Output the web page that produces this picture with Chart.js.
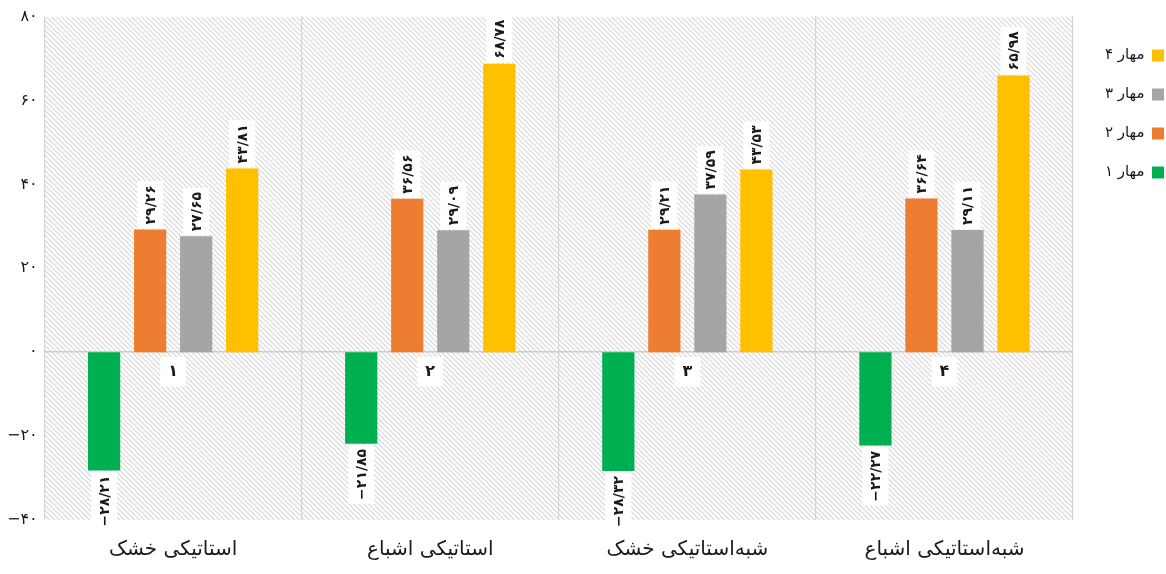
<!DOCTYPE html>
<html>
<head>
<meta charset="utf-8">
<script src="https://cdn.jsdelivr.net/npm/chart.js@4.4.1/dist/chart.umd.min.js"></script>
<style>
html,body{margin:0;padding:0;background:#fff;}
#wrap{width:1166px;height:574px;position:relative;}
canvas{direction:ltr;}
</style>
</head>
<body>
<div id="wrap"><canvas id="c" width="1166" height="574"></canvas></div>
<script>
const categories = ['۱', '۲', '۳', '۴'];
const groupNames = ['استاتیکی خشک', 'استاتیکی اشباع', 'شبه‌استاتیکی خشک', 'شبه‌استاتیکی اشباع'];
const seriesNames = ['مهار ۱', 'مهار ۲', 'مهار ۳', 'مهار ۴'];
const brace1 = [-28.21, -21.85, -28.32, -22.27];
const brace2 = [29.26, 36.56, 29.21, 36.64];
const brace3 = [27.65, 29.09, 37.59, 29.11];
const brace4 = [43.81, 68.78, 43.53, 65.98];
const seriesColors = ['#00b050', '#ed7d31', '#a5a5a5', '#ffc000'];
const yTickLabels = ['−۴۰', '−۲۰', '۰', '۲۰', '۴۰', '۶۰', '۸۰'];

const FONT = "'DejaVu Sans', 'Noto Sans', sans-serif";
const faDigits = '۰۱۲۳۴۵۶۷۸۹';
function toFa(v) {
  const s = Math.abs(v).toFixed(2).replace('.', '/');
  const f = s.replace(/[0-9]/g, d => faDigits[+d]);
  return (v < 0 ? '−' : '') + f;
}

const LEGEND_WIDTH = 93;
const LEGEND_SHIFT = 22;
const legendWidthPlugin = {
  id: 'legendWidth',
  beforeUpdate(chart) {
    const lg = chart.legend;
    if (lg && !lg._fitPatched) {
      const origFit = lg.fit.bind(lg);
      lg.fit = function () { origFit(); this.width = LEGEND_WIDTH; };
      const origDraw = lg.draw.bind(lg);
      lg.draw = function () {
        const l = this.left;
        this.left = l + LEGEND_SHIFT;
        origDraw();
        this.left = l;
      };
      lg._fitPatched = true;
    }
  }
};

const hatchPlugin = {
  id: 'hatch',
  beforeDraw(chart) {
    const {ctx, chartArea: a} = chart;
    ctx.canvas.style.direction = 'ltr';
    ctx.save();
    ctx.fillStyle = '#ffffff';
    ctx.fillRect(0, 0, chart.width, chart.height);
    ctx.beginPath();
    ctx.rect(a.left, a.top, a.right - a.left, a.bottom - a.top);
    ctx.clip();
    ctx.strokeStyle = '#dadada';
    ctx.lineWidth = 1.2;
    const h = a.bottom - a.top;
    ctx.beginPath();
    for (let x = a.left - h; x < a.right + 10; x += 5) {
      ctx.moveTo(x, a.top);
      ctx.lineTo(x + h, a.bottom);
    }
    ctx.stroke();
    ctx.restore();
  }
};

const valueLabelPlugin = {
  id: 'valueLabels',
  afterDatasetsDraw(chart) {
    const ctx = chart.ctx;
    ctx.canvas.style.direction = 'ltr';
    ctx.save();
    ctx.direction = 'ltr';
    ctx.font = "bold 14px " + FONT;
    ctx.textBaseline = 'middle';
    chart.data.datasets.forEach((ds, di) => {
      const meta = chart.getDatasetMeta(di);
      meta.data.forEach((bar, i) => {
        const v = ds.data[i];
        const txt = toFa(v);
        const w = ctx.measureText(txt).width;
        const boxLen = w + 8;
        const boxThick = 26;
        ctx.save();
        ctx.translate(bar.x, bar.y);
        ctx.rotate(-Math.PI / 2);
        ctx.fillStyle = '#ffffff';
        if (v >= 0) {
          ctx.fillRect(1, -boxThick / 2, boxLen, boxThick);
          ctx.fillStyle = '#1a1a1a';
          ctx.textAlign = 'left';
          ctx.fillText(txt, 5, 1);
        } else {
          ctx.fillRect(-1 - boxLen, -boxThick / 2, boxLen, boxThick);
          ctx.fillStyle = '#1a1a1a';
          ctx.textAlign = 'right';
          ctx.fillText(txt, -5, 1);
        }
        ctx.restore();
      });
    });
    ctx.restore();
  }
};

const seriesData = [brace1, brace2, brace3, brace4];
new Chart(document.getElementById('c'), {
  type: 'bar',
  data: {
    labels: categories,
    datasets: seriesData.map((d, k) => ({
      label: seriesNames[k],
      data: d,
      backgroundColor: seriesColors[k],
      borderWidth: 0,
      categoryPercentage: 0.716,
      barPercentage: 0.70
    }))
  },
  options: {
    responsive: false,
    animation: false,
    devicePixelRatio: 1,
    layout: {padding: {top: 10, right: 0, left: 0, bottom: -6}},
    plugins: {
      tooltip: {enabled: false},
      legend: {
        position: 'right',
        align: 'start',
        reverse: true,
        rtl: true,
        textDirection: 'ltr',
        title: {display: true, text: ' ', padding: {top: 2, bottom: 0}, font: {size: 10}},
        labels: {
          boxWidth: 12,
          boxHeight: 12,
          padding: 24,
          color: '#1a1a1a',
          font: {family: FONT, size: 15}
        }
      }
    },
    scales: {
      x: {
        type: 'category',
        position: {y: 0},
        offset: true,
        grid: {display: true, offset: true, color: '#d4d4d4', lineWidth: 1.2, drawTicks: false},
        border: {display: true, color: '#cccccc', width: 1.5},
        ticks: {
          color: '#1a1a1a',
          padding: 10,
          font: {family: FONT, size: 16, weight: 'bold'},
          showLabelBackdrop: true,
          backdropColor: '#ffffff',
          backdropPadding: {x: 8, y: 5}
        }
      },
      x2: {
        type: 'category',
        labels: groupNames,
        position: 'bottom',
        offset: true,
        grid: {display: false, drawTicks: false},
        border: {display: false},
        ticks: {color: '#1a1a1a', padding: 18, font: {family: FONT, size: 20}}
      },
      y: {
        min: -40,
        max: 80,
        grid: {display: false, drawTicks: false},
        border: {display: false},
        ticks: {
          stepSize: 20,
          padding: 7,
          color: '#1a1a1a',
          font: {family: FONT, size: 16},
          callback: (v, i) => yTickLabels[i]
        }
      }
    }
  },
  plugins: [legendWidthPlugin, hatchPlugin, valueLabelPlugin]
});
</script>
</body>
</html>
